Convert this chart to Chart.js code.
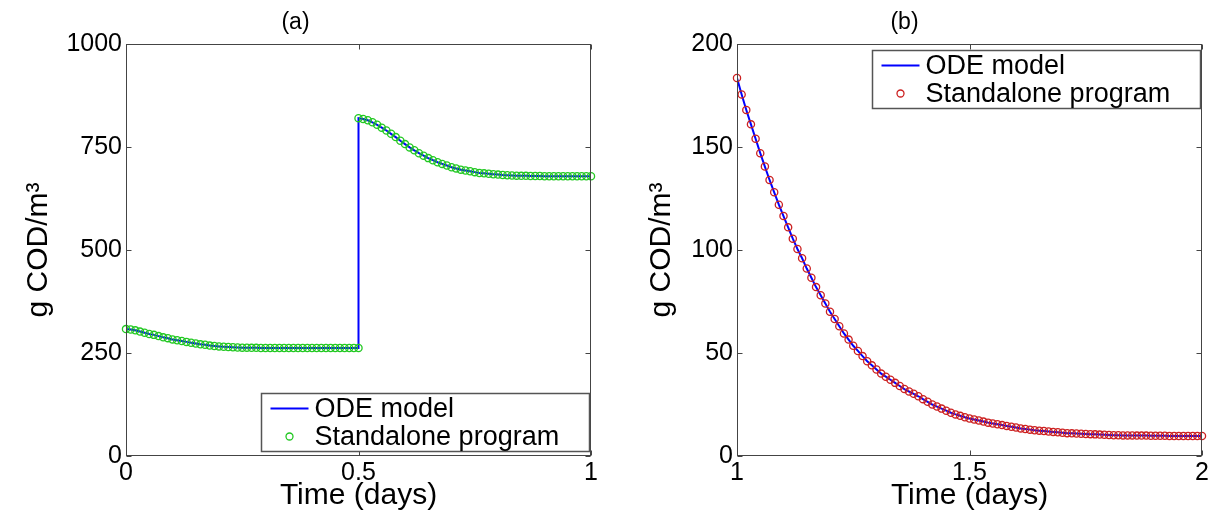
<!DOCTYPE html>
<html>
<head>
<meta charset="utf-8">
<script src="https://cdn.jsdelivr.net/npm/chart.js@4.4.1/dist/chart.umd.min.js"></script>
<style>
  html, body { margin: 0; padding: 0; background: #fff; }
  #wrap { position: relative; width: 1214px; height: 511px; }
  canvas { position: absolute; top: 0; }
</style>
</head>
<body>
<div id="wrap">
  <canvas id="chartA" width="607" height="511" style="left:0"></canvas>
  <canvas id="chartB" width="607" height="511" style="left:607px"></canvas>
</div>
<script>
// panel (a): step change at t = 0.5 (two samples at 0.5)
const timeA = [
  0, 0.01, 0.02, 0.03, 0.04, 0.05, 0.06, 0.07, 0.08, 0.09,
  0.1, 0.11, 0.12, 0.13, 0.14, 0.15, 0.16, 0.17, 0.18, 0.19,
  0.2, 0.21, 0.22, 0.23, 0.24, 0.25, 0.26, 0.27, 0.28, 0.29,
  0.3, 0.31, 0.32, 0.33, 0.34, 0.35, 0.36, 0.37, 0.38, 0.39,
  0.4, 0.41, 0.42, 0.43, 0.44, 0.45, 0.46, 0.47, 0.48, 0.49,
  0.5,
  0.5, 0.51, 0.52, 0.53, 0.54, 0.55, 0.56, 0.57, 0.58, 0.59,
  0.6, 0.61, 0.62, 0.63, 0.64, 0.65, 0.66, 0.67, 0.68, 0.69,
  0.7, 0.71, 0.72, 0.73, 0.74, 0.75, 0.76, 0.77, 0.78, 0.79,
  0.8, 0.81, 0.82, 0.83, 0.84, 0.85, 0.86, 0.87, 0.88, 0.89,
  0.9, 0.91, 0.92, 0.93, 0.94, 0.95, 0.96, 0.97, 0.98, 0.99,
  1
];
const codA = [
  308, 307, 305, 302, 299, 296, 294, 291, 288, 286,
  283, 281, 279, 277, 275, 273, 271, 270, 268, 267,
  266, 265, 264.5, 264, 263.5, 263, 263, 262.5, 262.5, 262,
  262, 262, 262, 262, 262, 262, 262, 262, 262, 262,
  262, 262, 262, 262, 262, 262, 262, 262, 262, 262,
  262,
  820, 818, 815, 810, 804, 797, 790, 782, 774, 765,
  757, 749, 742, 735, 729, 723, 718, 713, 709, 705,
  701, 698, 695, 693, 691, 689, 687, 686, 685, 684,
  683, 682, 681.5, 681, 680.5, 680, 680, 679.5, 679.5, 679.5,
  679, 679, 679, 679, 679, 679, 679, 679, 679, 679,
  679
];

// panel (b): decay from day 1 to day 2
const timeB = [
  1, 1.01, 1.02, 1.03, 1.04, 1.05, 1.06, 1.07, 1.08, 1.09,
  1.1, 1.11, 1.12, 1.13, 1.14, 1.15, 1.16, 1.17, 1.18, 1.19,
  1.2, 1.21, 1.22, 1.23, 1.24, 1.25, 1.26, 1.27, 1.28, 1.29,
  1.3, 1.31, 1.32, 1.33, 1.34, 1.35, 1.36, 1.37, 1.38, 1.39,
  1.4, 1.41, 1.42, 1.43, 1.44, 1.45, 1.46, 1.47, 1.48, 1.49,
  1.5, 1.51, 1.52, 1.53, 1.54, 1.55, 1.56, 1.57, 1.58, 1.59,
  1.6, 1.61, 1.62, 1.63, 1.64, 1.65, 1.66, 1.67, 1.68, 1.69,
  1.7, 1.71, 1.72, 1.73, 1.74, 1.75, 1.76, 1.77, 1.78, 1.79,
  1.8, 1.81, 1.82, 1.83, 1.84, 1.85, 1.86, 1.87, 1.88, 1.89,
  1.9, 1.91, 1.92, 1.93, 1.94, 1.95, 1.96, 1.97, 1.98, 1.99,
  2
];
const codB = [
  183.5, 175.5, 168, 161, 154, 147, 140.5, 134, 128, 122,
  116.5, 111, 105.5, 100.5, 96, 91, 86.5, 82, 78, 74,
  70, 66.5, 63, 59.5, 56.5, 53.5, 51, 48.5, 46, 44,
  42, 40, 38.5, 37, 35.5, 34, 32.5, 31.3, 30.2, 29,
  27.6, 26.3, 25, 24, 23, 22, 21, 20.2, 19.5, 18.8,
  18.2, 17.7, 17.2, 16.7, 16.2, 15.8, 15.4, 15, 14.6, 14.2,
  13.8, 13.4, 13.1, 12.8, 12.5, 12.3, 12.1, 11.9, 11.7, 11.5,
  11.3, 11.1, 11, 10.9, 10.8, 10.7, 10.6, 10.5, 10.4, 10.3,
  10.2, 10.1, 10.1, 10, 10, 10, 9.9, 9.9, 9.9, 9.8,
  9.8, 9.8, 9.8, 9.7, 9.7, 9.7, 9.7, 9.7, 9.7, 9.7,
  9.7
];

const xTicksA = [0, 0.5, 1];
const yTicksA = [0, 250, 500, 750, 1000];
const xTicksB = [1, 1.5, 2];
const yTicksB = [0, 50, 100, 150, 200];

const seriesNames = ['ODE model', 'Standalone program'];

const FONT = "'Liberation Sans', Arial, Helvetica, sans-serif";
Chart.defaults.font.family = FONT;
Chart.defaults.color = '#000';

// box + inward tick marks on all four sides, matlab style
const frameTicks = {
    id: 'frameTicks',
    afterDatasetsDraw(chart) {
        const { ctx, chartArea: a, scales } = chart;
        const l = Math.round(a.left) + 0.5, r = Math.round(a.right) - 0.5;
        const t = Math.round(a.top) + 0.5, b = Math.round(a.bottom) - 0.5;
        ctx.save();
        ctx.strokeStyle = '#444';
        ctx.lineWidth = 1;
        ctx.strokeRect(l, t, r - l, b - t);
        ctx.beginPath();
        scales.x.ticks.forEach(tk => {
            const px = Math.round(scales.x.getPixelForValue(tk.value)) + 0.5;
            ctx.moveTo(px, b); ctx.lineTo(px, b - 5);
            ctx.moveTo(px, t); ctx.lineTo(px, t + 5);
        });
        scales.y.ticks.forEach(tk => {
            const py = Math.round(scales.y.getPixelForValue(tk.value)) + 0.5;
            ctx.moveTo(l, py); ctx.lineTo(l + 5, py);
            ctx.moveTo(r, py); ctx.lineTo(r - 5, py);
        });
        ctx.stroke();
        ctx.restore();
    }
};

// legend box drawn inside the plot area
const boxLegend = {
    id: 'boxLegend',
    afterDraw(chart, args, opts) {
        const { ctx, chartArea: a } = chart;
        const w = 328, h = 58;
        const x = Math.round(a.right - 2 - w) + 0.5;
        const y = Math.round(opts.place === 'top' ? a.top + 6 : a.bottom - 5 - h) + 0.5;
        const [lineSet, markSet] = chart.data.datasets;
        ctx.save();
        ctx.fillStyle = '#fff';
        ctx.fillRect(x, y, w, h);
        ctx.strokeStyle = '#555';
        ctx.lineWidth = 1.5;
        ctx.strokeRect(x, y, w, h);

        ctx.strokeStyle = lineSet.borderColor;
        ctx.lineWidth = lineSet.borderWidth;
        ctx.beginPath();
        ctx.moveTo(x + 9, y + 15);
        ctx.lineTo(x + 47, y + 15);
        ctx.stroke();

        ctx.strokeStyle = markSet.borderColor;
        ctx.lineWidth = markSet.pointBorderWidth;
        ctx.beginPath();
        ctx.arc(x + 28, y + 43, 3.5, 0, Math.PI * 2);
        ctx.stroke();

        ctx.fillStyle = '#000';
        ctx.font = '27px ' + FONT;
        ctx.textBaseline = 'middle';
        ctx.fillText(lineSet.label, x + 53, y + 16);
        ctx.fillText(markSet.label, x + 53, y + 44);
        ctx.restore();
    }
};

function makePanel(canvasId, cfg) {
    const ctx = document.getElementById(canvasId).getContext('2d');
    const points = cfg.time.map((t, i) => ({ x: t, y: cfg.values[i] }));

    return new Chart(ctx, {
        type: 'line',
        data: {
            datasets: [
                {
                    label: seriesNames[0],
                    data: points,
                    borderColor: '#0000ff',
                    borderWidth: 2,
                    pointRadius: 0,
                    tension: 0,
                    order: 1
                },
                {
                    label: seriesNames[1],
                    data: points,
                    showLine: false,
                    borderColor: cfg.markColor,
                    backgroundColor: 'rgba(0,0,0,0)',
                    pointRadius: 3.6,
                    pointBorderWidth: 1.3,
                    pointStyle: 'circle',
                    clip: false,
                    order: 0
                }
            ]
        },
        options: {
            responsive: false,
            animation: false,
            events: [],
            layout: {
                padding: { left: 0, right: cfg.padRight, top: 0, bottom: 0 }
            },
            scales: {
                x: {
                    type: 'linear',
                    min: cfg.xTicks[0],
                    max: cfg.xTicks[cfg.xTicks.length - 1],
                    afterBuildTicks: s => { s.ticks = cfg.xTicks.map(v => ({ value: v })); },
                    afterFit: s => { s.height = 55; },
                    grid: { display: false, drawTicks: false },
                    border: { display: false },
                    ticks: {
                        maxRotation: 0,
                        padding: 2,
                        font: { size: 25 },
                        callback: v => String(v)
                    },
                    title: {
                        display: true,
                        text: 'Time (days)',
                        font: { size: 30, lineHeight: 1 },
                        padding: { top: 0, bottom: 0 }
                    }
                },
                y: {
                    min: cfg.yTicks[0],
                    max: cfg.yTicks[cfg.yTicks.length - 1],
                    afterBuildTicks: s => { s.ticks = cfg.yTicks.map(v => ({ value: v })); },
                    afterFit: s => { s.width = cfg.yWidth; },
                    grid: { display: false, drawTicks: false },
                    border: { display: false },
                    ticks: {
                        padding: 4,
                        font: { size: 25 },
                        callback: v => String(v)
                    },
                    title: {
                        display: true,
                        text: 'g COD/m³',
                        font: { size: 30, lineHeight: 1 },
                        padding: { top: cfg.yTitlePad, bottom: 0 }
                    }
                }
            },
            plugins: {
                legend: { display: false },
                tooltip: { enabled: false },
                title: {
                    display: true,
                    text: cfg.title,
                    color: '#000',
                    font: { size: 23, weight: 'normal', lineHeight: 1.2 },
                    padding: { top: 9, bottom: 7.4 }
                },
                boxLegend: { place: cfg.legendPlace }
            }
        },
        plugins: [frameTicks, boxLegend]
    });
}

makePanel('chartA', {
    title: '(a)',
    time: timeA,
    values: codA,
    xTicks: xTicksA,
    yTicks: yTicksA,
    markColor: '#22c822',
    legendPlace: 'bottom',
    yWidth: 126,
    yTitlePad: 24,
    padRight: 16
});

makePanel('chartB', {
    title: '(b)',
    time: timeB,
    values: codB,
    xTicks: xTicksB,
    yTicks: yTicksB,
    markColor: '#cc2020',
    legendPlace: 'top',
    yWidth: 130,
    yTitlePad: 40,
    padRight: 12
});
</script>
</body>
</html>
